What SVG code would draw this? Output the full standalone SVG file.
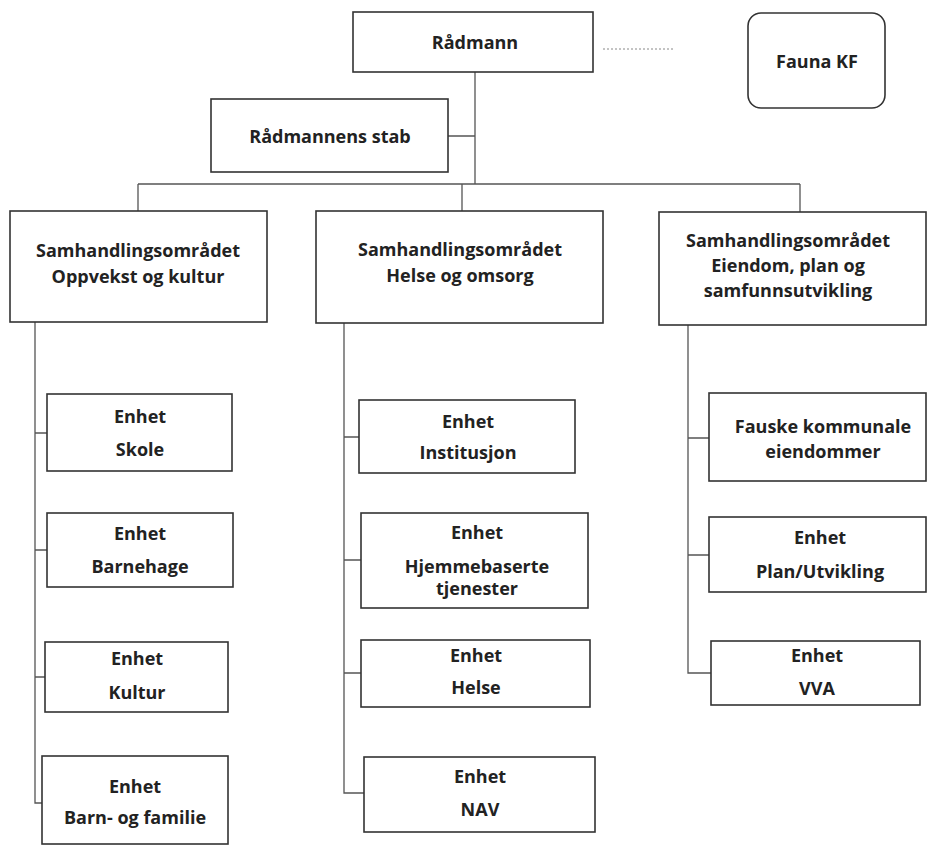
<svg xmlns="http://www.w3.org/2000/svg" width="928" height="845" viewBox="0 0 928 845">
<style>
.box{fill:#fff;stroke:#333;stroke-width:1.6}
.t{font-family:"Open Sans","Liberation Sans",sans-serif;font-weight:700;font-size:18px;fill:#222;text-anchor:middle}
.c{fill:none;stroke:#555;stroke-width:1.3}
.d{fill:none;stroke:#888;stroke-width:1;stroke-dasharray:2 2}
</style>
<rect width="928" height="845" fill="#fff"/>
<g id="connectors">
<path class="d" d="M603 49H675"/>
<path class="c" d="M475 72V184M448 136H475M138 184H800M138 184V211M462 184V211M800 184V212"/>
<path class="c" d="M35 322V803H42M35 433H47M35 550H47M35 677H45"/>
<path class="c" d="M344 323V793H364M344 437H359M344 560H361M344 673H361"/>
<path class="c" d="M688 325V673H711M688 438H709M688 555H709"/>
</g>
<g id="radmann"><rect class="box" x="353" y="12" width="240" height="60"/><text class="t" x="475" y="49">Rådmann</text></g>
<g id="fauna"><rect class="box" x="748" y="13" width="137" height="95" rx="13"/><text class="t" x="817" y="68">Fauna KF</text></g>
<g id="stab"><rect class="box" x="211" y="99" width="237" height="73"/><text class="t" x="330" y="143">Rådmannens stab</text></g>
<g id="oppvekst"><rect class="box" x="10" y="211" width="257" height="111"/><text class="t" x="138" y="257">Samhandlingsområdet</text><text class="t" x="138" y="283">Oppvekst og kultur</text></g>
<g id="helse-omsorg"><rect class="box" x="316" y="211" width="287" height="112"/><text class="t" x="460" y="256">Samhandlingsområdet</text><text class="t" x="460" y="282">Helse og omsorg</text></g>
<g id="eiendom"><rect class="box" x="659" y="212" width="267" height="113"/><text class="t" x="788" y="247">Samhandlingsområdet</text><text class="t" x="788" y="272">Eiendom, plan og</text><text class="t" x="788" y="297">samfunnsutvikling</text></g>
<g id="skole"><rect class="box" x="47" y="394" width="185" height="77"/><text class="t" x="140" y="423">Enhet</text><text class="t" x="140" y="456">Skole</text></g>
<g id="barnehage"><rect class="box" x="47" y="513" width="186" height="74"/><text class="t" x="140" y="540">Enhet</text><text class="t" x="140" y="573">Barnehage</text></g>
<g id="kultur"><rect class="box" x="45" y="642" width="183" height="70"/><text class="t" x="137" y="665">Enhet</text><text class="t" x="137" y="699">Kultur</text></g>
<g id="barn-familie"><rect class="box" x="42" y="756" width="186" height="88"/><text class="t" x="135" y="793">Enhet</text><text class="t" x="135" y="824">Barn- og familie</text></g>
<g id="institusjon"><rect class="box" x="359" y="400" width="216" height="73"/><text class="t" x="468" y="428">Enhet</text><text class="t" x="468" y="459">Institusjon</text></g>
<g id="hjemmebaserte"><rect class="box" x="361" y="513" width="227" height="95"/><text class="t" x="477" y="539">Enhet</text><text class="t" x="477" y="573">Hjemmebaserte</text><text class="t" x="477" y="595">tjenester</text></g>
<g id="helse"><rect class="box" x="361" y="640" width="229" height="67"/><text class="t" x="476" y="662">Enhet</text><text class="t" x="476" y="694">Helse</text></g>
<g id="nav"><rect class="box" x="364" y="757" width="231" height="75"/><text class="t" x="480" y="783">Enhet</text><text class="t" x="480" y="816">NAV</text></g>
<g id="fauske-eiendommer"><rect class="box" x="709" y="393" width="217" height="88"/><text class="t" x="823" y="433">Fauske kommunale</text><text class="t" x="823" y="458">eiendommer</text></g>
<g id="plan-utvikling"><rect class="box" x="709" y="517" width="217" height="75"/><text class="t" x="820" y="544">Enhet</text><text class="t" x="820" y="578">Plan/Utvikling</text></g>
<g id="vva"><rect class="box" x="711" y="641" width="209" height="64"/><text class="t" x="817" y="662">Enhet</text><text class="t" x="817" y="695">VVA</text></g>
</svg>
